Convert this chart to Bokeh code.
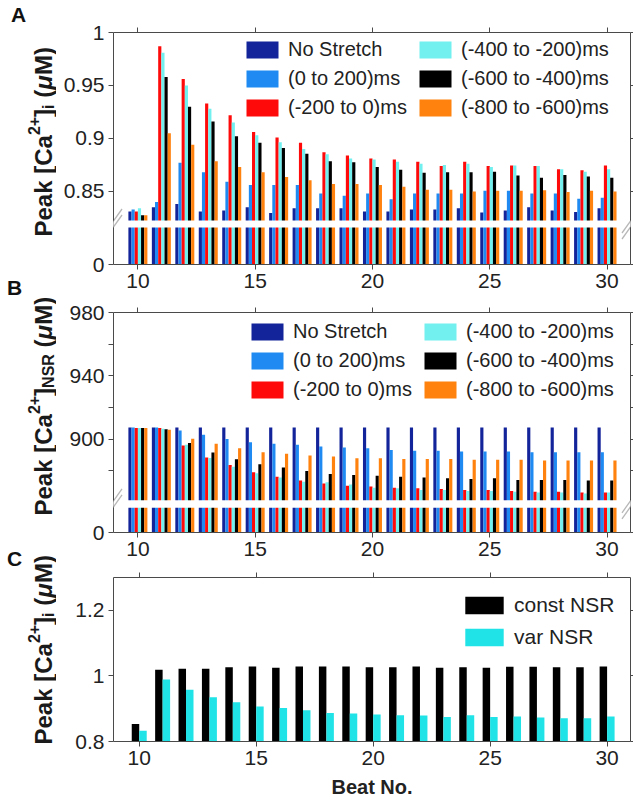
import math
from bokeh.plotting import figure
from bokeh.models import (ColumnDataSource, Range1d, FixedTicker, LinearAxis, Legend,
                          LegendItem, BoxAnnotation, PolyAnnotation, Label)
from bokeh.transform import dodge
from bokeh.layouts import row, column
from bokeh.embed import file_html
from bokeh.resources import INLINE

# ---------------- data ----------------
beats = [10, 11, 12, 13, 14, 15, 16, 17, 18, 19, 20, 21, 22, 23, 24, 25, 26, 27, 28, 29, 30]

series_labels = ["No Stretch", "(0 to 200)ms", "(-200 to 0)ms",
                 "(-400 to -200)ms", "(-600 to -400)ms", "(-800 to -600)ms"]
series_colors = ["#13239a", "#1f8bf2", "#fe0a0a", "#72f0f0", "#000000", "#ff820f"]

# Panel A: peak [Ca2+]i (uM)
a_no_stretch = [0.831, 0.835, 0.838, 0.831, 0.832, 0.835, 0.8295, 0.834, 0.834, 0.834, 0.831,
                0.831, 0.833, 0.833, 0.834, 0.830, 0.832, 0.835, 0.832, 0.8305, 0.834]
a_0_200 = [0.833, 0.840, 0.877, 0.868, 0.859, 0.856, 0.856, 0.856, 0.848, 0.846, 0.848,
           0.8425, 0.848, 0.848, 0.848, 0.8505, 0.8505, 0.848, 0.848, 0.843, 0.844]
a_m200_0 = [0.831, 0.987, 0.956, 0.933, 0.922, 0.906, 0.901, 0.896, 0.887, 0.884, 0.881,
            0.880, 0.878, 0.874, 0.878, 0.874, 0.8745, 0.874, 0.871, 0.870, 0.8745]
a_m400_m200 = [0.834, 0.981, 0.950, 0.928, 0.915, 0.903, 0.8965, 0.890, 0.885, 0.881, 0.880,
               0.878, 0.876, 0.875, 0.876, 0.873, 0.8745, 0.874, 0.871, 0.8685, 0.871]
a_m600_m400 = [0.8275, 0.958, 0.930, 0.916, 0.902, 0.896, 0.891, 0.8855, 0.8785, 0.8775, 0.873,
               0.8705, 0.8675, 0.868, 0.868, 0.8685, 0.865, 0.863, 0.8655, 0.864, 0.863]
a_m800_m600 = [0.8275, 0.905, 0.894, 0.8785, 0.873, 0.868, 0.8635, 0.8605, 0.857, 0.857, 0.856,
               0.8545, 0.8515, 0.8515, 0.850, 0.8505, 0.8505, 0.851, 0.8495, 0.8505, 0.850]

# Panel B: peak [Ca2+]NSR (uM)
b_no_stretch = [907.3, 907.3, 907.3, 907.3, 907.3, 907.3, 907.3, 907.3, 907.3, 907.3, 907.3,
                907.3, 907.3, 907.3, 907.3, 907.3, 907.3, 907.3, 907.3, 907.3, 907.3]
b_0_200 = [907.3, 907.3, 905.5, 902.8, 900.0, 898.1, 897.0, 896.4, 895.3, 894.7, 894.3,
           893.2, 892.6, 892.6, 892.2, 892.2, 892.2, 891.7, 891.7, 891.7, 891.7]
b_m200_0 = [907.0, 907.0, 896.0, 888.4, 883.7, 879.0, 876.3, 873.8, 872.0, 870.6, 870.0,
            869.3, 868.9, 868.5, 867.8, 867.8, 867.2, 866.8, 866.8, 866.3, 866.3]
b_m400_m200 = [907.0, 906.6, 896.4, 888.0, 882.6, 878.4, 875.7, 873.1, 872.7, 871.4, 869.3,
               868.9, 867.8, 867.8, 867.2, 867.2, 866.8, 866.3, 866.3, 865.7, 866.3]
b_m600_m400 = [907.0, 906.3, 897.5, 891.5, 887.3, 884.1, 882.0, 879.9, 878.0, 877.4, 876.9,
               876.3, 875.7, 875.2, 874.8, 875.2, 874.2, 874.2, 874.2, 873.8, 873.8]
b_m800_m600 = [907.0, 905.9, 900.2, 897.0, 894.3, 891.7, 890.7, 889.6, 889.0, 887.9, 887.9,
               887.5, 887.5, 887.5, 886.9, 886.9, 886.9, 886.5, 886.5, 886.5, 886.5]

# Panel C: peak [Ca2+]i (uM)
c_labels = ["const NSR", "var NSR"]
c_colors = ["#000000", "#1fe3e6"]
c_const_nsr = [0.853, 1.019, 1.022, 1.022, 1.0265, 1.0286, 1.0245, 1.0286, 1.0286, 1.0286, 1.0265,
               1.0265, 1.0286, 1.0245, 1.0265, 1.0245, 1.0276, 1.0276, 1.0265, 1.0265, 1.0286]
c_var_nsr = [0.833, 0.989, 0.958, 0.935, 0.920, 0.907, 0.902, 0.895, 0.887, 0.885, 0.882,
             0.880, 0.879, 0.8745, 0.880, 0.8745, 0.8765, 0.873, 0.871, 0.871, 0.8765]

x_ticks = [10, 15, 20, 25, 30]

# broken-axis settings (display value where the "0" of the lower stub sits, and the gap)
A_ZERO = 0.781
A_GAP = (0.816, 0.8226)
a_ticks = [A_ZERO, 0.85, 0.9, 0.95, 1.0]
a_tick_labels = {A_ZERO: "0", 0.85: "0.85", 0.9: "0.9", 0.95: "0.95", 1.0: "1"}

B_ZERO = 841
B_GAP = (856.7, 861.4)
b_ticks = [B_ZERO, 900, 940, 980]
b_minor = [880, 920, 960]
b_tick_labels = {B_ZERO: "0"}

c_ticks = [0.8, 1.0, 1.2]
c_tick_labels = {0.8: "0.8", 1.0: "1", 1.2: "1.2"}

# ---------------- styling ----------------
FONT = "Liberation Sans"
AX = "#4a4a4a"
TXT = "#222222"
LABW = 56
PW = 633 - LABW


def style_axis(ax, labels=True, tick_out=5):
    ax.axis_line_color = AX
    ax.axis_line_width = 1
    ax.major_tick_line_color = AX
    ax.minor_tick_line_color = AX
    ax.major_tick_in = 0
    ax.major_tick_out = tick_out
    ax.minor_tick_in = 0
    ax.minor_tick_out = tick_out
    if labels:
        ax.major_label_text_font = FONT
        ax.major_label_text_font_size = "21px"
        ax.major_label_text_color = TXT
        ax.major_label_standoff = 4
    else:
        ax.major_label_text_font_size = "0px"
        ax.major_label_text_color = None
        ax.major_label_standoff = 0


def make_panel(height, top_b, bottom_b, left_b, xr, yr, yticker, yover):
    p = figure(width=PW, height=height, x_range=Range1d(*xr), y_range=Range1d(*yr),
               output_backend="svg", toolbar_location=None,
               min_border_top=top_b, min_border_bottom=bottom_b,
               min_border_left=left_b, min_border_right=3,
               outline_line_color=None, background_fill_color="white",
               border_fill_color="white")
    p.grid.visible = False
    bottom_axis = p.below[0]
    left_axis = p.left[0]
    bottom_axis.ticker = FixedTicker(ticks=x_ticks)
    left_axis.ticker = yticker
    left_axis.major_label_overrides = yover
    style_axis(bottom_axis)
    style_axis(left_axis)
    top = LinearAxis(ticker=FixedTicker(ticks=x_ticks))
    style_axis(top, labels=False)
    p.add_layout(top, "above")
    right = LinearAxis(ticker=yticker)
    style_axis(right, labels=False, tick_out=3)
    p.add_layout(right, "right")
    return p, bottom_axis


def add_bars(p, data, labels, colors, width, bottom, legends_spec, font_size, gw, gh, spacing):
    src = ColumnDataSource(dict(beat=beats, **{f"s{i}": d for i, d in enumerate(data)}))
    n = len(data)
    rends = []
    for i in range(n):
        off = (i - (n - 1) / 2.0) * width
        r = p.vbar(x=dodge("beat", off, range=p.x_range), top=f"s{i}", bottom=bottom,
                   width=width, source=src, fill_color=colors[i], line_color=None)
        rends.append(r)
    for (idx, loc) in legends_spec:
        leg = Legend(items=[LegendItem(label=labels[k], renderers=[rends[k]]) for k in idx],
                     location=loc, orientation="vertical", padding=0, margin=0, spacing=spacing,
                     glyph_width=gw, glyph_height=gh, label_height=gh, label_standoff=6,
                     label_text_font=FONT, label_text_font_size=font_size,
                     label_text_color=TXT, border_line_color=None,
                     background_fill_color="white", background_fill_alpha=0.0)
        p.add_layout(leg, "center")


def add_break(p, gap_center, frame_w):
    for xc in (0, frame_w):
        xs = [xc - 8.5, xc + 8.5, xc + 8.5, xc - 8.5]
        ys = [gap_center - 15, gap_center + 9, gap_center + 15, gap_center - 9]
        p.add_layout(PolyAnnotation(xs=xs, ys=ys, xs_units="screen", ys_units="screen",
                                    fill_color="white", fill_alpha=1.0, line_color=None))
        for dy in (-3, 3):
            p.add_layout(PolyAnnotation(xs=[xc - 8.5, xc + 8.5],
                                        ys=[gap_center - 12 + dy, gap_center + 12 + dy],
                                        xs_units="screen", ys_units="screen",
                                        fill_alpha=0.0, line_color="#111111", line_width=1.3))


# ---------------- panel A ----------------
pA, _ = make_panel(298, 32, 34, 113 - LABW, (8.96, 31.0), (A_ZERO, 1.0),
                   FixedTicker(ticks=a_ticks), a_tick_labels)
add_bars(pA, [a_no_stretch, a_0_200, a_m200_0, a_m400_m200, a_m600_m400, a_m800_m600],
         series_labels, series_colors, 0.135, A_ZERO,
         [([0, 1, 2], (129, 145)), ([3, 4, 5], (302, 145))], "20px", 40, 21, 6)
pA.add_layout(BoxAnnotation(bottom=A_GAP[0], top=A_GAP[1], fill_color="white",
                            fill_alpha=1.0, line_color=None))
add_break(pA, 40.5, 517)

# ---------------- panel B ----------------
pB, _ = make_panel(268, 14, 34, 113 - LABW, (8.96, 31.0), (B_ZERO, 980),
                   FixedTicker(ticks=b_ticks, minor_ticks=b_minor), b_tick_labels)
add_bars(pB, [b_no_stretch, b_0_200, b_m200_0, b_m400_m200, b_m600_m400, b_m800_m600],
         series_labels, series_colors, 0.135, B_ZERO,
         [([0, 1, 2], (134, 131)), ([3, 4, 5], (307, 131))], "20px", 40, 21, 6)
pB.add_layout(BoxAnnotation(bottom=B_GAP[0], top=B_GAP[1], fill_color="white",
                            fill_alpha=1.0, line_color=None))
add_break(pB, 28.7, 517)

# ---------------- panel C ----------------
pC, c_bottom_axis = make_panel(240, 11, 65, 105 - LABW, (8.9, 31.0), (0.8, 1.3),
                               FixedTicker(ticks=c_ticks), c_tick_labels)
add_bars(pC, [c_const_nsr, c_var_nsr], c_labels, c_colors, 0.32, 0.8,
         [([0, 1], (347, 92))], "21px", 48, 22, 8)
c_bottom_axis.axis_label = "Beat No."
c_bottom_axis.axis_label_text_font = FONT
c_bottom_axis.axis_label_text_font_size = "20px"
c_bottom_axis.axis_label_text_font_style = "bold"
c_bottom_axis.axis_label_text_color = TXT
c_bottom_axis.axis_label_standoff = 8

# ---------------- left label strip ----------------
lab = figure(width=LABW, height=806, x_range=Range1d(0, LABW), y_range=Range1d(0, 806),
             x_axis_type=None, y_axis_type=None, output_backend="svg",
             toolbar_location=None, min_border=0, outline_line_color=None)

WB = {"P": 0.667, "e": 0.556, "a": 0.556, "k": 0.556, " ": 0.278, "[": 0.333, "C": 0.722,
      "]": 0.333, "2": 0.556, "+": 0.584, "i": 0.278, "(": 0.333, ")": 0.333, "M": 0.833,
      "\u03bc": 0.611, "N": 0.722, "S": 0.667, "R": 0.722}


def tw(s, size):
    return sum(WB[c] for c in s) * size


def add_ylabel(y_start_abs, sub, F=24, S=16, x_base=43):
    pieces = [("Peak [Ca", F, "bold", 0, 0), ("2+", S, "bold", -0.40 * F, 0),
              ("]", F, "bold", 0, 0), (sub, S, "bold", 0.22 * F, 0),
              ("(", F, "bold", 0, 0.278 * F), ("\u03bc", F, "bold italic", 0, 0),
              ("M)", F, "bold", 0, 0)]
    y = 806 - y_start_abs
    for text, size, style, dx, pre in pieces:
        y += pre
        lab.add_layout(Label(x=x_base + dx, y=y, text=text, angle=math.pi / 2,
                             text_font=FONT, text_font_size=f"{size}px",
                             text_font_style=style, text_color="#1a1a1a",
                             text_align="left", text_baseline="alphabetic"))
        y += tw(text, size)


add_ylabel(236, "i")
add_ylabel(515, "NSR")
add_ylabel(744, "i")

for letter, (lx, ly) in {"A": (18, 14), "B": (14, 287), "C": (14, 558)}.items():
    lab.add_layout(Label(x=lx, y=806 - ly, text=letter, text_font=FONT,
                         text_font_size="21px", text_font_style="bold",
                         text_color="#111111", text_align="center",
                         text_baseline="middle"))

layout = row(lab, column(pA, pB, pC, spacing=0), spacing=0)
open("out.html", "w").write(file_html(layout, INLINE))
